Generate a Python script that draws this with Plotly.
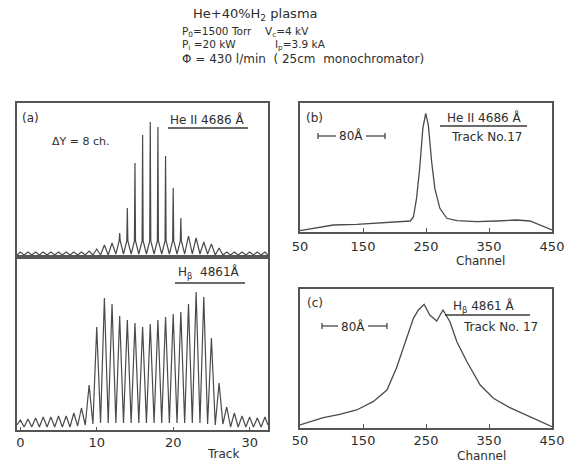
import plotly.graph_objects as go

# ---------------- data ----------------
# Panel (a) upper: He II 4686 A, per-track profile
tracks = list(range(0, 33))
heii_bump = [5, 5, 5, 5, 5, 5, 5, 5, 5, 6, 8, 12, 14, 16, 16, 16, 16, 16, 16, 16,
             16, 16, 21, 19, 15, 13, 9, 5, 5, 5, 5, 5, 5]
heii_spike = [0, 0, 0, 0, 0, 0, 0, 0, 0, 0, 0, 0, 0, 24, 49, 94, 122, 135, 130, 101,
              69, 39, 0, 0, 0, 0, 0, 0, 0, 0, 0, 0, 0]
heii_valley = [2, 2, 2, 2, 2, 2, 2, 2, 2, 2, 2, 2, 3, 3, 3, 3, 3, 3, 3, 3,
               3, 3, 3, 3, 3, 2, 2, 2, 2, 2, 2, 2]
heii_ends = [2, 2]

# Panel (a) lower: H-beta 4861 A, per-track peaks and valleys
hb_peak = [10, 11, 12, 13, 13, 14, 14, 17, 22, 45, 103, 132, 126, 114, 110, 107, 103,
           106, 110, 113, 116, 118, 126, 138, 133, 92, 47, 23, 17, 14, 13, 12, 13]
hb_valley = [3, 3, 3, 3, 3, 3, 3, 4, 5, 6, 7, 7, 7, 7, 7, 7, 7, 7, 7, 7,
             7, 7, 7, 7, 6, 5, 6, 3, 3, 3, 3, 3]
hb_ends = [5, 5]
track_range = [-0.43, 32.4]
track_ticks = [0, 10, 20, 30]

# Panel (b): He II 4686 A, track No.17
b_channel = [50, 66, 82, 103, 140, 182, 225, 230, 235, 240, 245, 249.5, 253.7, 259,
             264, 272, 283, 299, 330, 362, 394, 415, 431, 450]
b_intensity = [1.3, 3, 4.3, 7, 7.7, 9.3, 11, 15, 33.7, 63.7, 103.7, 118.7, 107, 70,
               43.7, 23.7, 13.7, 11.3, 10.3, 11, 12, 11, 7, 2]

# Panel (c): H-beta 4861 A, track No.17
c_channel = [50, 66, 87, 113, 140, 166, 188, 203, 217, 230, 238, 247, 256, 267, 277,
             288, 299, 315, 336, 357, 383, 415, 436, 450]
c_intensity = [3, 6.3, 10.3, 13.7, 18, 26.3, 38, 59.7, 86.3, 109.7, 118, 123.7, 113,
               107, 118, 106.3, 86.3, 66.3, 43, 29.7, 20.3, 11.3, 4.7, 1.3]
channel_ticks = [50, 150, 250, 350, 450]

# ---------------- build polylines from the arrays ----------------
ax_x, ax_y = [track_range[0]], [heii_ends[0]]
for i, n in enumerate(tracks):
    if heii_spike[i] > heii_bump[i]:
        ax_x += [n - 0.07, n, n + 0.07]
        ax_y += [heii_bump[i], heii_spike[i], heii_bump[i]]
    else:
        ax_x.append(n)
        ax_y.append(heii_bump[i])
    if i < len(heii_valley):
        ax_x.append(n + 0.5)
        ax_y.append(heii_valley[i])
ax_x.append(track_range[1])
ax_y.append(heii_ends[1])

bx_x, bx_y = [track_range[0]], [hb_ends[0]]
for i, n in enumerate(tracks):
    bx_x.append(n)
    bx_y.append(hb_peak[i])
    if i < len(hb_valley):
        bx_x.append(n + 0.5)
        bx_y.append(hb_valley[i])
bx_x.append(track_range[1])
bx_y.append(hb_ends[1])

LINE = "#4a4a4a"
TXT = "#2e2e2e"
FONT = "DejaVu Sans"

fig = go.Figure()
fig.add_trace(go.Scatter(x=ax_x, y=ax_y, mode="lines", line=dict(color=LINE, width=1.2),
                         xaxis="x", yaxis="y", showlegend=False))
fig.add_trace(go.Scatter(x=bx_x, y=bx_y, mode="lines", line=dict(color=LINE, width=1.2),
                         xaxis="x2", yaxis="y2", showlegend=False))
fig.add_trace(go.Scatter(x=b_channel, y=b_intensity, mode="lines",
                         line=dict(color=LINE, width=1.3), xaxis="x3", yaxis="y3",
                         showlegend=False))
fig.add_trace(go.Scatter(x=c_channel, y=c_intensity, mode="lines",
                         line=dict(color=LINE, width=1.3), xaxis="x4", yaxis="y4",
                         showlegend=False))

W, H = 575, 463
def px(v):
    return v / W
def py(v):
    return 1 - v / H

frame = dict(showline=True, mirror=True, linecolor="#555555", linewidth=1.5,
             showgrid=False, zeroline=False, automargin=False)
tickfont = dict(family=FONT, size=13, color=TXT)

fig.update_layout(
    template="none",
    width=W, height=H, autosize=False,
    margin=dict(l=0, r=0, t=0, b=0, pad=0),
    paper_bgcolor="white", plot_bgcolor="white",
    xaxis=dict(domain=[px(17), px(268)], range=track_range, anchor="y",
               showticklabels=False, ticks="", **frame),
    yaxis=dict(domain=[py(257), py(103)], range=[0, 154], anchor="x",
               showticklabels=False, ticks="", **frame),
    xaxis2=dict(domain=[px(17), px(268)], range=track_range, anchor="y2",
                tickvals=track_ticks, ticks="inside", ticklen=3, tickcolor="#555555",
                tickfont=tickfont, **frame),
    yaxis2=dict(domain=[py(430), py(257)], range=[0, 173], anchor="x2",
                showticklabels=False, ticks="", **frame),
    xaxis3=dict(domain=[px(300), px(552)], range=[50, 450], anchor="y3",
                tickvals=channel_ticks, ticks="inside", ticklen=4, tickcolor="#555555",
                tickfont=tickfont, ticklabelstandoff=2, **frame),
    yaxis3=dict(domain=[py(232), py(103)], range=[0, 129], anchor="x3",
                showticklabels=False, ticks="", **frame),
    xaxis4=dict(domain=[px(300), px(552)], range=[50, 450], anchor="y4",
                tickvals=channel_ticks, ticks="inside", ticklen=4, tickcolor="#555555",
                tickfont=tickfont, **frame),
    yaxis4=dict(domain=[py(428), py(289)], range=[0, 139], anchor="x4",
                showticklabels=False, ticks="", **frame),
)

def note(text, x, y, size=12, xanchor="center", xref="paper", yref="paper"):
    fig.add_annotation(text=text, x=x, y=y, xref=xref, yref=yref, showarrow=False,
                       xanchor=xanchor, yanchor="middle", borderpad=0,
                       font=dict(family=FONT, size=size, color=TXT))

# header text block
note("He+40%H<sub>2</sub> plasma", px(192), py(15), 13, "left")
note("P<sub>0</sub>=1500 Torr", px(181), py(32), 10.5, "left")
note("V<sub>c</sub>=4 kV", px(264), py(32), 10.5, "left")
note("P<sub>i</sub> =20 kW", px(181), py(45), 10.5, "left")
note("I<sub>p</sub>=3.9 kA", px(274), py(45), 10.5, "left")
note("\u03a6 = 430 l/min  ( 25cm  monochromator)", px(181), py(58.5), 12, "left")

# panel (a)
note("(a)", px(30), py(118), 12)
note("\u0394Y = 8 ch.", px(80), py(141), 11)
note("He II 4686 \u00c5", px(207), py(119), 12)
note("H<sub>\u03b2</sub>  4861\u00c5", px(209), py(272), 12)
note("Track", px(223), py(454), 12)
note("(b)", px(314), py(118), 12)
note("He II 4686 \u00c5", px(484), py(118), 12)
note("Track No.17", px(486), py(137), 12)
note("Channel", px(480), py(261), 12)
note("(c)", px(315), py(303), 12)
note("H<sub>\u03b2</sub> 4861 \u00c5", px(484), py(306), 12)
note("Track No. 17", px(500), py(327), 12)
note("Channel", px(481), py(456), 12)

# underlines
def hline(x0, x1, y, w=1.3):
    fig.add_shape(type="line", xref="paper", yref="paper", x0=px(x0), x1=px(x1),
                  y0=py(y), y1=py(y), line=dict(color="#3a3a3a", width=w))
hline(168, 248, 128)
hline(175, 245, 283)
hline(440, 527, 126)
hline(445, 530, 315)

# 80 A scale bars
def scalebar(x0, x1, y, tx):
    hline(x0, tx - 15, y, 1.2)
    hline(tx + 15, x1, y, 1.2)
    for xx in (x0, x1):
        fig.add_shape(type="line", xref="paper", yref="paper", x0=px(xx), x1=px(xx),
                      y0=py(y - 3), y1=py(y + 3), line=dict(color="#3a3a3a", width=1.2))
    note("80\u00c5", px(tx), py(y), 12)
scalebar(318, 385, 136, 351)
scalebar(322, 387, 326, 353)

fig.write_html("out.html", config={"displayModeBar": False})
with open("out.html", "r", encoding="utf-8") as f:
    html = f.read()
html = html.replace("<head>", "<head><style>html,body{margin:0;padding:0;overflow:hidden}</style>", 1)
with open("out.html", "w", encoding="utf-8") as f:
    f.write(html)
